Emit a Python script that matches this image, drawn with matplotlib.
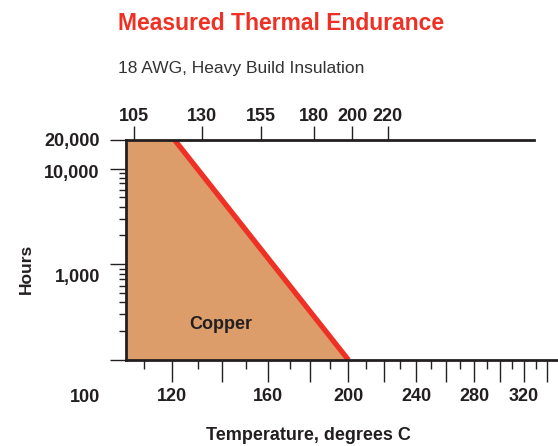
import numpy as np
import matplotlib
matplotlib.use('Agg')
import matplotlib.pyplot as plt
from matplotlib.ticker import FixedLocator, FixedFormatter, NullFormatter, LogLocator
from matplotlib.transforms import offset_copy

# ---- data ----
temps_c = [121, 200]          # endurance line end points (deg C)
hours = [20000, 100]          # hours at those temperatures
x_major = [120, 140, 160, 180, 200, 220, 240, 260, 280, 300, 320, 340]
x_major_labels = ['120', '', '160', '', '200', '', '240', '', '280', '', '320', '']
x_minor = [110, 130, 150, 170, 190, 210, 230, 250, 270, 290, 310, 330]
top_ticks = [105, 130, 155, 180, 200, 220]
top_labels = ['105', '130', '155', '180', '200', '220']
y_major = [100, 1000, 10000, 20000]
y_labels = ['1,000', '10,000', '20,000']
y_label_vals = [1000, 10000, 20000]

plt.rcParams['font.family'] = ['Liberation Sans', 'DejaVu Sans']
plt.rcParams['font.weight'] = 'bold'

DARK = '#231F20'
RED = '#EE3124'
FILL = '#DD9D6B'


def fwd(t):
    return -1.0 / (np.asarray(t, dtype=float) + 273.15)


def inv(u):
    return -1.0 / np.asarray(u, dtype=float) - 273.15


W, H = 558, 446
fig = plt.figure(figsize=(W / 100, H / 100), dpi=100)
L, R, T, B = 125.7, 558, 139.7, 360
ax = fig.add_axes([L / W, 1 - B / H, (R - L) / W, (B - T) / H])
ax.set_xscale('function', functions=(fwd, inv))
ax.set_yscale('log')
x0, x1 = 103.4, 350.5
ax.set_xlim(x0, x1)
ax.set_ylim(100, 20000)

y0, y1 = ax.get_ylim()
ax.fill([x0, x0, temps_c[0], temps_c[1]], [y0, hours[0], hours[0], hours[1]],
        color=FILL, lw=0, zorder=1)
ax.plot(temps_c, hours, color=RED, lw=3.8, solid_capstyle='butt', zorder=3)

for s in ['left', 'top', 'bottom']:
    ax.spines[s].set_color(DARK)
    ax.spines[s].set_linewidth(2)
    ax.spines[s].set_zorder(4)
ax.spines['right'].set_visible(False)
ax.spines['top'].set_bounds(x0, 328.6)

ax.xaxis.set_major_locator(FixedLocator(x_major))
ax.xaxis.set_major_formatter(FixedFormatter(x_major_labels))
ax.xaxis.set_minor_locator(FixedLocator(x_minor))
ax.xaxis.set_minor_formatter(NullFormatter())
ax.tick_params(axis='x', which='major', length=16, width=1, pad=4.5,
               labelsize=13, colors=DARK)
ax.tick_params(axis='x', which='minor', length=6.5, width=1, colors=DARK)

ax.yaxis.set_major_locator(FixedLocator(y_major))
ax.yaxis.set_major_formatter(NullFormatter())
ax.yaxis.set_minor_locator(LogLocator(base=10, subs=np.arange(2, 10)))
ax.yaxis.set_minor_formatter(NullFormatter())
ax.tick_params(axis='y', which='major', length=11.3, width=1, colors=DARK)
ax.tick_params(axis='y', which='minor', length=5, width=1, colors=DARK)

drops = [17.6, 9.4, 6.6]
for val, lab, dr in zip(y_label_vals, y_labels, drops):
    tr = offset_copy(ax.get_yaxis_transform(), fig=fig, x=-(L - 99.8), y=-dr, units='dots')
    ax.text(0, val, lab, transform=tr, ha='right', va='baseline', fontsize=13,
            fontweight='bold', color=DARK, clip_on=False)

# top temperature axis (slightly shifted as in the original)
ax2 = ax.twiny()
ax2.set_xscale('function', functions=(fwd, inv))
d = 4.0 * (fwd(x1) - fwd(x0)) / (R - L)
ax2.set_xlim(inv(fwd(x0) - d), inv(fwd(x1) - d))
ax2.xaxis.set_major_locator(FixedLocator(top_ticks))
ax2.xaxis.set_major_formatter(FixedFormatter(top_labels))
ax2.xaxis.set_minor_locator(FixedLocator([]))
ax2.tick_params(axis='x', which='major', length=10, width=1, pad=0.7,
                labelsize=13, colors=DARK)
for s in ax2.spines.values():
    s.set_visible(False)

ax.text(139.3, 211, 'Copper', ha='center', va='baseline', fontsize=13,
        fontweight='bold', color=DARK, zorder=5)

fig.text(118.3 / W, 1 - 30 / H, 'Measured Thermal Endurance', color=RED,
         fontsize=16.5, fontweight='bold', ha='left', va='baseline')
fig.text(118.3 / W, 1 - 72.7 / H, '18 AWG, Heavy Build Insulation', color='#333333',
         fontsize=12.5, fontweight='normal', ha='left', va='baseline')
fig.text(26 / W, 1 - 269 / H, 'Hours', rotation=90, ha='center', va='center',
         fontsize=12.5, fontweight='bold', color=DARK)
fig.text(308.5 / W, 1 - 440 / H, 'Temperature, degrees C', ha='center', va='baseline',
         fontsize=13, fontweight='bold', color=DARK)
fig.text(84.7 / W, 1 - 401.7 / H, '100', ha='center', va='baseline',
         fontsize=13, fontweight='bold', color=DARK)

fig.savefig('out.png', dpi=100)
